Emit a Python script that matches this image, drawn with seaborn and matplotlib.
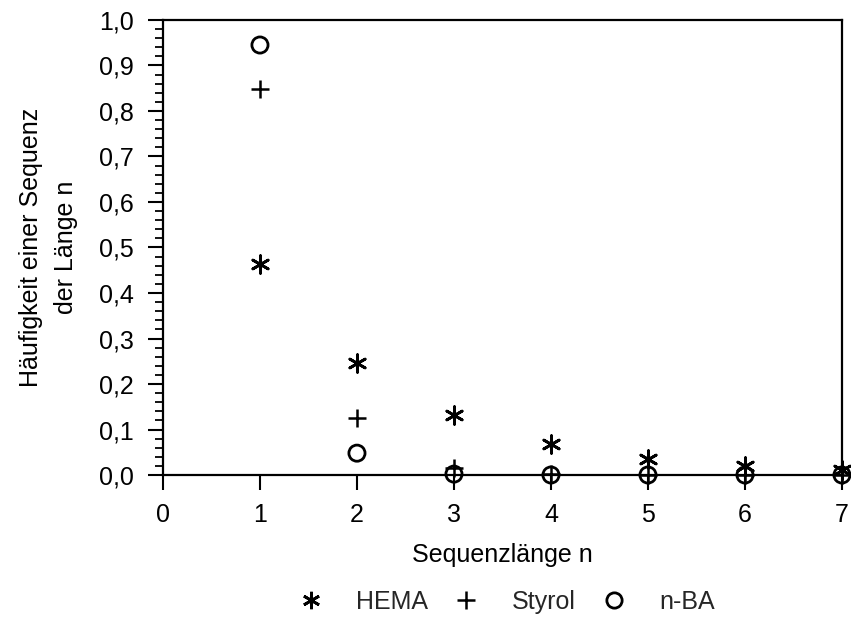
import matplotlib
matplotlib.use("Agg")
import matplotlib.pyplot as plt
import seaborn as sns
import pandas as pd
from matplotlib.ticker import MultipleLocator, FuncFormatter
from matplotlib.lines import Line2D

n_values = [1, 2, 3, 4, 5, 6, 7]
hema = [0.463, 0.247, 0.131, 0.069, 0.036, 0.020, 0.011]
styrol = [0.848, 0.126, 0.016, 0.002, 0.0, 0.0, 0.0]
nba = [0.945, 0.048, 0.002, 0.0, 0.0, 0.0, 0.0]
series_names = ["HEMA", "Styrol", "n-BA"]

df = pd.concat([
    pd.DataFrame({"n": n_values, "h": hema, "s": "HEMA"}),
    pd.DataFrame({"n": n_values, "h": styrol, "s": "Styrol"}),
    pd.DataFrame({"n": n_values, "h": nba, "s": "n-BA"}),
])

sns.set_theme(style="ticks")
plt.rcParams["font.family"] = ["Liberation Sans", "DejaVu Sans"]

FS = 18
fig = plt.figure(figsize=(8.51, 6.21), dpi=100)
ax = fig.add_axes([0.1915, 0.2351, 0.7979, 0.7327])

ast = (6, 2, 0)
styles = {
    "HEMA": dict(marker=ast, s=160, facecolors="black", edgecolors="black", linewidths=2.0),
    "Styrol": dict(marker="+", s=160, color="black", linewidths=1.8),
    "n-BA": dict(marker="o", s=135, facecolors="none", edgecolors="black", linewidths=2.0),
}
for name in ["n-BA", "Styrol", "HEMA"]:
    sub = df[df["s"] == name]
    sns.scatterplot(x="n", y="h", data=sub, ax=ax, legend=False, clip_on=False, zorder=3, **styles[name])

ax.set_xlim(0, 7)
ax.set_ylim(0, 1.0)
ax.xaxis.set_major_locator(MultipleLocator(1))
ax.yaxis.set_major_locator(MultipleLocator(0.1))
ax.yaxis.set_minor_locator(MultipleLocator(0.02))
ax.yaxis.set_major_formatter(FuncFormatter(lambda v, p: f"{v:.1f}".replace(".", ",")))
ax.tick_params(axis="both", which="major", length=11, width=1.5, color="black", labelsize=FS,
               labelcolor="black", direction="out", pad=9)
ax.tick_params(axis="y", which="major", pad=10)
ax.tick_params(axis="y", which="minor", length=6, width=1.3, color="black", direction="out")
for sp in ax.spines.values():
    sp.set_linewidth(1.6)
    sp.set_color("black")
    sp.set_visible(True)

ax.set_xlabel("Sequenzlänge n", fontsize=FS, labelpad=12, color="black")
ax.set_ylabel("Häufigkeit einer Sequenz\nder Länge n", fontsize=FS, labelpad=15, color="black", linespacing=1.6)

handles = [
    Line2D([], [], marker=ast, linestyle="none", color="black", markersize=12.5, markeredgewidth=2.0),
    Line2D([], [], marker="+", linestyle="none", color="black", markersize=12.5, markeredgewidth=1.8),
    Line2D([], [], marker="o", linestyle="none", color="black", markerfacecolor="none", markersize=11, markeredgewidth=2.0),
]
fig.legend(handles, series_names, loc="center", bbox_to_anchor=(0.595, 0.031), ncol=3, frameon=False,
           fontsize=FS, handletextpad=1.3, columnspacing=1.05, handlelength=1.0, borderpad=0.1)

fig.savefig("out.png", dpi=100)
